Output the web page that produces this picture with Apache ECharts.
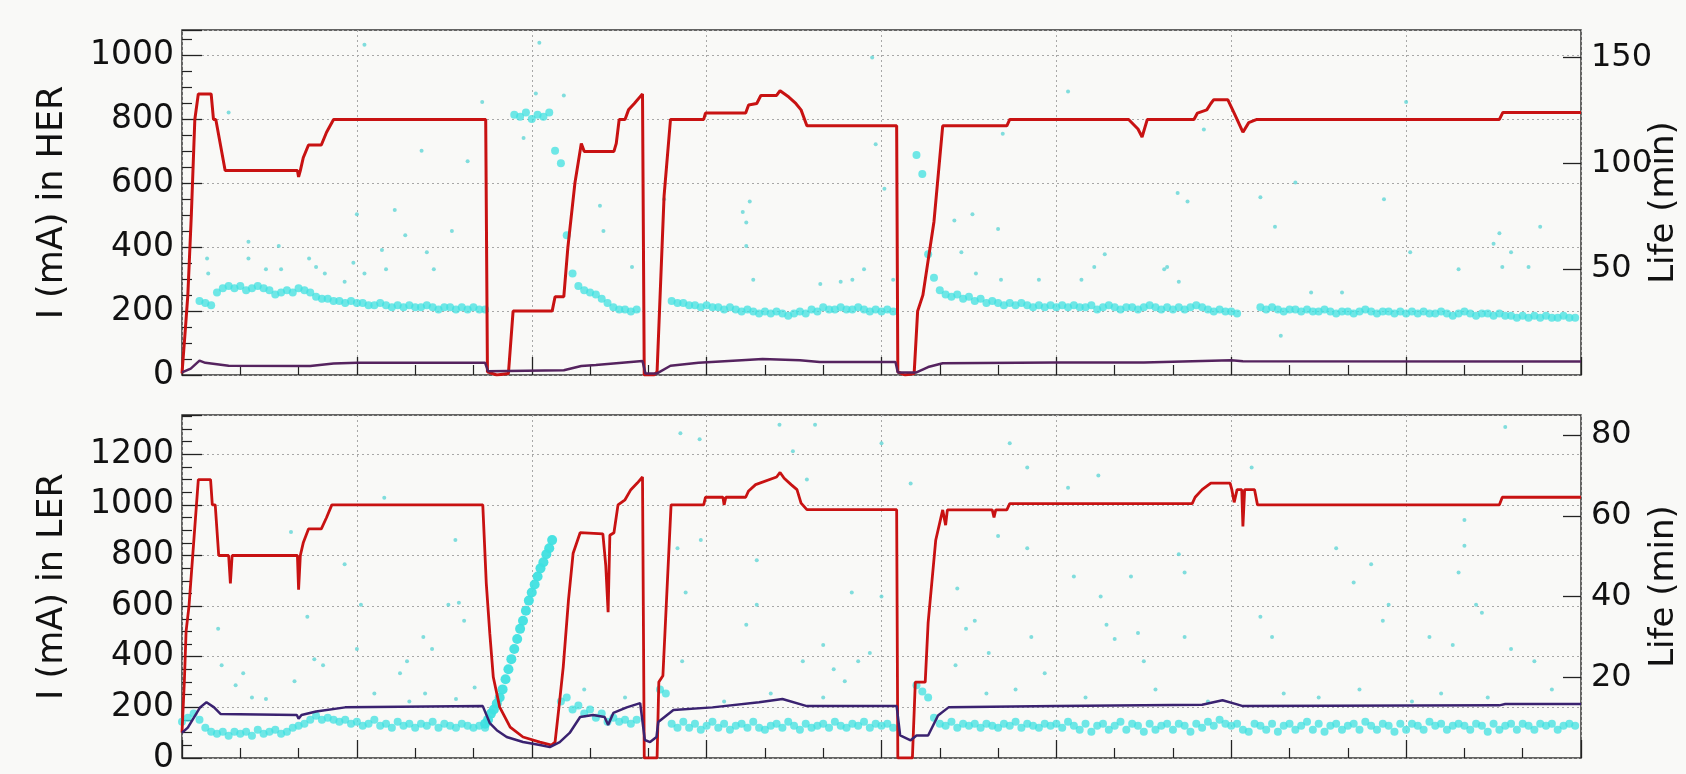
<!doctype html>
<html>
<head>
<meta charset="utf-8">
<script src="https://cdn.jsdelivr.net/npm/echarts@6/dist/echarts.min.js"></script>
<style>
    html, body { margin: 0; padding: 0; background: #f9f9f7; }
    #chart { width: 1686px; height: 774px; }
</style>
</head>
<body>
<div id="chart"></div>
<script>
// x axis: hours, ticks every 3 h, no labels
var xMax = 24;
var xStep = 3;
var bandStep = 0.1;   // life samples, one every 0.1 h

// ---- HER (top panel) ----
// beam current, mA : [hour, value]
var herCurrent = [
    [0.00, 5], [0.06, 150], [0.10, 250], [0.16, 500], [0.22, 800], [0.28, 880], [0.50, 880], [0.54, 800],
    [0.58, 800], [0.74, 640], [1.98, 640], [2.00, 620], [2.03, 640], [2.08, 680], [2.17, 720], [2.39, 720],
    [2.48, 760], [2.60, 800], [5.21, 800], [5.24, 10], [5.40, 0], [5.60, 5], [5.68, 200], [6.35, 200],
    [6.40, 245], [6.55, 245], [6.62, 400], [6.74, 600], [6.85, 725], [6.90, 700], [7.41, 700], [7.45, 725],
    [7.50, 800], [7.60, 800], [7.66, 830], [7.76, 850], [7.90, 880], [7.93, 0], [8.10, 0], [8.15, 10],
    [8.27, 560], [8.38, 800], [8.95, 800], [8.98, 820], [9.67, 820], [9.72, 845], [9.86, 850], [9.93, 875],
    [10.20, 875], [10.26, 890], [10.41, 870], [10.53, 850], [10.62, 830], [10.72, 780], [12.26, 780], [12.28, 10],
    [12.40, 0], [12.56, 5], [12.62, 200], [12.71, 250], [12.90, 480], [13.05, 780], [14.15, 780], [14.20, 800],
    [16.24, 800], [16.40, 770], [16.47, 745], [16.56, 800], [17.36, 800], [17.42, 820], [17.58, 830], [17.65, 850],
    [17.70, 862], [17.94, 862], [18.05, 820], [18.20, 760], [18.30, 790], [18.44, 800], [22.60, 800], [22.66, 822],
    [24.00, 822]
];
// second trace, mA
var herAux = [
    [0, 8], [0.15, 20], [0.30, 45], [0.40, 38], [0.80, 29], [2.20, 28], [2.60, 36], [3.00, 38], [5.20, 38],
    [5.25, 12], [6.55, 15], [6.85, 28], [7.10, 31], [7.90, 44], [7.95, 5], [8.15, 5], [8.38, 29], [8.86, 38],
    [9.60, 46], [9.96, 50], [10.60, 46], [10.94, 41], [12.24, 41], [12.28, 8], [12.60, 8], [12.80, 25],
    [13.05, 37], [15.00, 39], [16.50, 39], [18.00, 46], [18.20, 43], [24.00, 42]
];
// life, min, every 0.1 h (one row per hour)
var herLifeBand = [
    null, null, null, 35, 34, 33, 39, 41, 42, 41,
    42, 40, 41, 42, 41, 40, 38, 39, 40, 39,
    41, 40, 39, 37, 36, 36, 35, 35, 34, 35,
    34, 34, 33, 33, 34, 33, 32, 33, 32, 33,
    32, 32, 33, 32, 31, 32, 32, 31, 32, 31,
    32, 31, 31, null, null, null, null, 123, 122, 124,
    121, 123, 122, 124, 106, 100, 66, 48, 42, 40,
    39, 38, 36, 34, 32, 31, 31, 30, 31, null,
    null, null, null, null, 35, 34, 34, 33, 33, 32,
    33, 32, 32, 31, 32, 31, 30, 31, 30, 29,
    30, 29, 30, 29, 28, 29, 30, 29, 31, 30,
    32, 31, 31, 32, 31, 31, 32, 31, 30, 31,
    30, 31, 30, null, null, null, 104, 95, 57, 46,
    40, 38, 37, 38, 36, 37, 35, 36, 34, 35,
    34, 33, 34, 33, 34, 33, 32, 33, 32, 33,
    32, 33, 32, 33, 32, 32, 33, 31, 32, 33,
    32, 31, 32, 32, 31, 32, 33, 32, 31, 32,
    31, 32, 31, 32, 33, 32, 31, 30, 31, 30,
    30, 29, null, null, null, 32, 31, 32, 31, 30,
    31, 31, 30, 31, 30, 30, 31, 30, 29, 30,
    30, 29, 30, 31, 30, 29, 30, 30, 29, 30,
    29, 30, 29, 30, 29, 29, 30, 29, 28, 29,
    30, 29, 28, 29, 29, 28, 29, 28, 28, 27,
    28, 27, 28, 27, 28, 27, 27, 28, 27, 27
];
// sparse life points, min
var herLifeSparse = [
    [0.43, 55], [0.45, 48], [0.80, 124], [1.14, 63], [1.14, 55], [1.44, 50], [1.66, 61], [1.70, 50], [2.18, 55],
    [2.30, 51], [2.45, 48], [2.79, 44], [2.94, 53], [3.00, 76], [3.13, 48], [3.13, 156], [3.43, 59], [3.50, 50],
    [3.65, 78], [3.83, 66], [4.11, 106], [4.20, 58], [4.32, 50], [4.63, 68], [4.90, 101], [5.15, 129], [5.86, 112],
    [6.07, 133], [6.13, 157], [6.55, 132], [7.17, 80], [7.23, 68], [7.72, 51], [8.27, 83], [9.62, 77], [9.68, 61],
    [9.68, 72], [9.74, 82], [9.80, 45], [10.95, 43], [11.30, 44], [11.50, 45], [11.70, 50], [11.84, 150], [11.90, 109],
    [12.05, 88], [12.20, 45], [13.25, 73], [13.37, 58], [13.56, 76], [13.62, 48], [14.00, 69], [14.05, 45], [14.08, 114],
    [14.70, 45], [15.20, 134], [15.43, 45], [15.65, 51], [15.83, 57], [16.85, 50], [16.90, 51], [17.08, 86], [17.10, 44],
    [17.25, 82], [17.53, 116], [18.50, 84], [18.75, 70], [18.85, 18.5], [19.10, 91], [19.37, 39], [19.90, 39], [20.62, 83],
    [21.00, 129], [21.07, 58], [21.90, 50], [22.50, 62], [22.60, 67], [22.65, 51], [22.80, 58], [23.10, 51], [23.30, 70]
];

// ---- LER (bottom panel) ----
var lerCurrent = [
    [0.00, 100], [0.04, 300], [0.07, 500], [0.12, 600], [0.20, 850], [0.28, 1100], [0.49, 1100], [0.52, 1000],
    [0.57, 1000], [0.63, 800], [0.80, 800], [0.83, 690], [0.86, 800], [1.98, 800], [2.00, 665], [2.03, 800],
    [2.08, 850], [2.17, 905], [2.39, 905], [2.48, 950], [2.57, 1000], [5.16, 1000], [5.22, 690], [5.28, 493],
    [5.34, 320], [5.45, 201], [5.63, 122], [5.85, 83], [6.14, 63], [6.34, 51], [6.40, 63], [6.48, 229],
    [6.54, 359], [6.63, 624], [6.71, 809], [6.83, 890], [7.22, 885], [7.27, 760], [7.31, 576], [7.34, 880],
    [7.41, 890], [7.48, 1000], [7.60, 1020], [7.70, 1060], [7.81, 1086], [7.90, 1110], [7.93, 0], [8.15, 0],
    [8.18, 300], [8.25, 325], [8.39, 1000], [8.95, 1000], [8.98, 1030], [9.28, 1030], [9.30, 1000], [9.33, 1030],
    [9.67, 1030], [9.72, 1055], [9.84, 1080], [10.20, 1110], [10.26, 1128], [10.33, 1105], [10.45, 1080], [10.55, 1060],
    [10.62, 1007], [10.72, 981], [12.26, 981], [12.28, 0], [12.53, 0], [12.58, 300], [12.75, 300], [12.80, 535],
    [12.93, 860], [13.05, 980], [13.10, 920], [13.13, 980], [13.90, 980], [13.93, 950], [13.96, 980], [14.15, 980],
    [14.20, 1005], [17.33, 1005], [17.38, 1030], [17.50, 1060], [17.65, 1086], [17.98, 1086], [18.01, 1060], [18.05, 1010],
    [18.10, 1060], [18.18, 1060], [18.20, 915], [18.23, 1060], [18.40, 1060], [18.45, 1000], [22.60, 1000], [22.65, 1030],
    [24.00, 1030]
];
var lerAux = [
    [0, 100], [0.10, 120], [0.31, 200], [0.42, 220], [0.55, 200], [0.66, 174], [1.97, 170], [2.00, 155], [2.05, 170],
    [2.30, 184], [2.80, 200], [5.16, 205], [5.28, 138], [5.40, 110], [5.57, 83], [5.85, 63], [6.14, 51], [6.31, 43],
    [6.48, 63], [6.65, 99], [6.83, 162], [7.05, 170], [7.25, 162], [7.31, 130], [7.40, 178], [7.63, 200], [7.86, 217],
    [7.94, 71], [8.03, 63], [8.14, 83], [8.17, 142], [8.43, 190], [9.10, 200], [9.90, 220], [10.30, 233], [10.72, 205],
    [12.26, 205], [12.32, 89], [12.50, 70], [12.60, 89], [12.80, 89], [12.97, 168], [13.15, 200], [15.00, 205],
    [17.50, 210], [17.85, 228], [18.10, 212], [18.20, 205], [22.60, 208], [22.70, 213], [24.00, 213]
];
var lerLifeBand = [
    9, 10, 11, 9.5, 7.5, 6.5, 6, 6.5, 5.5, 6.5,
    6, 6.5, 5.5, 7, 6, 6.5, 7, 6, 6.5, 7.5,
    8, 8.5, 9.5, 10.5, 9.5, 10, 9.5, 9, 9.5, 8.5,
    9, 8, 8.5, 9.5, 8, 8.5, 7.5, 9, 8, 8.5,
    7.5, 8.5, 8, 9, 7.5, 8.5, 8, 7.5, 8.5, 8,
    7.5, 8, 7.5, null, null, null, null, null, null, null,
    null, null, null, null, null, 14, 15, 12, 13, 11,
    12, 10, 11, 9, 10, 9, 9.5, 8.5, 9.5, null,
    null, null, 17, 16, 8.5, 7.5, 9, 7.5, 8.5, 7,
    8, 9, 7.5, 8.5, 7, 8, 8.5, 7.5, 9, 7.5,
    7, 8, 8.5, 7.5, 9, 8, 7, 8.5, 7.5, 8,
    8.5, 7.5, 9, 8, 7.5, 8.5, 8, 9, 7.5, 8.5,
    8, 8.5, 7.5, null, null, null, 18, 16.5, 15, 10,
    8.5, 8, 9, 7.5, 8.5, 8, 8.5, 7.5, 8.5, 8,
    7.5, 8.5, 8, 9, 7.5, 8.5, 8, 7.5, 8.5, 8,
    8.5, 7.5, 9, 8, 7, 8.5, 6.5, 8, 8.5, 7,
    8, 9, 7, 8.5, 8, 6.5, 8.5, 7, 8, 8.5,
    7, 8.5, 8, 6.5, 8.5, 7.5, 9, 8, 9.5, 8.5,
    8, 8.5, 7, 6.5, 8.5, 8, 7, 8.5, 6.5, 8,
    8.5, 7, 8, 9, 7, 8.5, 6.5, 8, 8.5, 7,
    8, 8.5, 7, 9, 8, 7, 8.5, 8, 6.5, 8.5,
    7, 8.5, 8, 7, 9, 8, 8.5, 7, 8, 8.5,
    8, 7, 8.5, 8, 6.5, 8.5, 7, 8, 8.5, 7,
    8.5, 8, 7, 8.5, 8, 8.5, 7, 8, 8.5, 8
];
// the steep climb after the 5.2 h dump, denser samples
var lerLifeRamp = [
    [5.20, 8.5], [5.25, 9.5], [5.30, 11], [5.35, 12], [5.40, 13.5], [5.45, 15], [5.50, 17], [5.55, 19.5],
    [5.60, 22], [5.65, 24.5], [5.70, 27], [5.75, 29.5], [5.80, 32], [5.85, 34], [5.90, 36.5], [5.95, 39],
    [6.00, 41], [6.05, 43], [6.10, 45], [6.15, 47], [6.20, 48.5], [6.25, 50.5], [6.30, 52], [6.35, 54]
];
var lerLifeSparse = [
    [0.62, 32], [0.68, 23], [0.92, 18], [1.05, 21], [1.44, 14.6], [1.87, 56], [1.93, 19], [2.15, 35], [2.27, 24.5],
    [2.42, 23], [2.79, 48], [3.00, 27], [3.07, 38], [3.47, 64.5], [3.74, 21], [3.86, 24], [4.14, 30], [4.17, 16],
    [4.29, 27], [4.57, 38], [4.69, 54], [4.75, 38.5], [4.84, 34], [5.02, 17.5], [4.70, 14.6], [8.50, 52], [8.55, 80.5],
    [8.58, 24], [8.64, 41], [8.88, 79], [8.90, 54], [9.68, 33], [9.86, 49], [9.86, 38], [10.25, 82.6], [10.48, 76],
    [10.65, 24], [10.72, 69], [10.86, 82.6], [11.00, 28], [11.18, 22], [11.37, 19], [11.49, 41], [11.60, 24], [11.80, 26],
    [12.00, 40], [12.00, 78], [12.50, 68], [13.27, 23], [13.30, 42], [13.45, 32], [13.60, 34], [13.84, 26], [14.00, 55],
    [14.20, 78], [14.50, 72], [14.50, 52], [14.57, 30], [14.80, 21], [15.20, 67], [15.30, 45], [15.72, 70], [15.76, 40],
    [15.86, 33], [16.00, 29.5], [16.28, 45], [16.40, 31], [16.50, 24], [17.10, 50.5], [17.20, 46], [17.20, 30], [18.35, 72],
    [18.50, 35], [18.70, 30], [19.80, 52], [20.10, 43.5], [20.40, 48], [20.60, 34], [20.70, 38], [21.40, 30], [21.80, 28],
    [21.90, 46], [22.00, 52.6], [22.00, 59], [22.20, 38], [22.30, 36], [22.70, 82], [22.80, 27], [23.20, 24],
    [1.20, 15], [3.30, 16], [3.90, 14], [6.90, 17], [7.60, 15], [9.30, 14], [10.10, 16], [11.00, 15], [13.80, 16],
    [14.30, 17], [15.50, 15], [16.70, 17], [17.60, 14], [18.90, 16], [19.50, 15], [20.20, 17], [21.10, 14], [21.60, 16],
    [22.40, 15], [23.50, 17]
];

function bandPoints(vals) {
    var pts = [];
    vals.forEach(function (v, i) {
        if (v !== null) pts.push([+(i * bandStep).toFixed(2), v]);
    });
    return pts;
}

var font = 'DejaVu Sans';
var ink = '#111';
var red = '#c81212';
var cyan = '#3fe0e0';

function plain(v) { return String(v); }

function xAxis(gi) {
    return {
        type: 'value', gridIndex: gi, min: 0, max: xMax, interval: xStep,
        axisLine: { show: false },
        axisTick: { inside: true, length: 18, lineStyle: { color: '#222', width: 1.3 } },
        minorTick: { show: true, splitNumber: 3, length: 10, lineStyle: { color: '#222', width: 1.2 } },
        axisLabel: { show: false },
        splitLine: { show: true, lineStyle: { color: '#a8a8a8', type: [2, 3], width: 1 } }
    };
}
function leftAxis(gi, max, name) {
    return {
        type: 'value', gridIndex: gi, position: 'left', min: 0, max: max, interval: 200,
        name: name, nameLocation: 'middle', nameGap: 112, nameMoveOverlap: false,
        nameTextStyle: { fontFamily: font, fontSize: 35, color: ink },
        axisLine: { show: false },
        axisTick: { inside: true, length: 20, lineStyle: { color: '#222', width: 1.3 } },
        minorTick: { show: true, splitNumber: 4, length: 10, lineStyle: { color: '#222', width: 1.2 } },
        axisLabel: { fontFamily: font, fontSize: 33, color: ink, margin: 8, showMaxLabel: false, formatter: plain },
        splitLine: { show: true, lineStyle: { color: '#a8a8a8', type: [2, 3], width: 1 } }
    };
}
function rightAxis(gi, max, interval) {
    return {
        type: 'value', gridIndex: gi, position: 'right', min: 0, max: max, interval: interval,
        name: 'Life (min)', nameLocation: 'middle', nameGap: 66, nameMoveOverlap: false,
        nameTextStyle: { fontFamily: font, fontSize: 34, color: ink },
        axisLine: { show: false },
        axisTick: { inside: true, length: 18, lineStyle: { color: '#222', width: 1.3 } },
        axisLabel: { fontFamily: font, fontSize: 32, color: ink, margin: 10, showMinLabel: false, showMaxLabel: false, formatter: plain },
        splitLine: { show: false }
    };
}
function lineSeries(data, xi, yi, color, width) {
    return {
        type: 'line', xAxisIndex: xi, yAxisIndex: yi, data: data, symbol: 'none',
        lineStyle: { color: color, width: width }, z: 4
    };
}
function dotSeries(data, xi, yi, size, color, opacity) {
    return {
        type: 'scatter', xAxisIndex: xi, yAxisIndex: yi, data: data, symbolSize: size,
        itemStyle: { color: color, opacity: opacity }, z: 2
    };
}

var chart = echarts.init(document.getElementById('chart'), null, { renderer: 'canvas' });
chart.setOption({
    animation: false,
    backgroundColor: '#f9f9f7',
    grid: [
        { left: 182, right: 105, top: 30, height: 345, outerBoundsMode: 'none', show: true, borderColor: '#333', borderWidth: 1.5, backgroundColor: '#f9f9f7' },
        { left: 182, right: 105, top: 415, height: 343, outerBoundsMode: 'none', show: true, borderColor: '#333', borderWidth: 1.5, backgroundColor: '#f9f9f7' }
    ],
    xAxis: [xAxis(0), xAxis(1)],
    yAxis: [
        leftAxis(0, 1080, 'I (mA) in HER'),
        rightAxis(0, 163, 50),
        leftAxis(1, 1355, 'I (mA) in LER'),
        rightAxis(1, 85, 20)
    ],
    series: [
        dotSeries(bandPoints(herLifeBand), 0, 1, 8, cyan, 0.75),
        dotSeries(herLifeSparse, 0, 1, 4, '#62d6d6', 0.8),
        lineSeries(herCurrent, 0, 0, red, 3),
        lineSeries(herAux, 0, 0, '#55235f', 2.5),

        dotSeries(bandPoints(lerLifeBand), 1, 3, 8, cyan, 0.75),
        dotSeries(lerLifeRamp, 1, 3, 10, cyan, 0.95),
        dotSeries(lerLifeSparse, 1, 3, 4, '#62d6d6', 0.8),
        lineSeries(lerCurrent, 1, 2, red, 2.8),
        lineSeries(lerAux, 1, 2, '#3a2270', 2.5)
    ]
});
</script>
</body>
</html>
